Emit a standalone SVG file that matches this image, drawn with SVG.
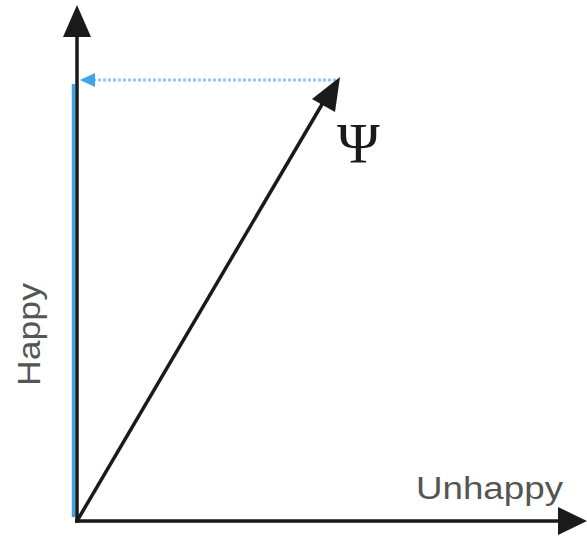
<svg xmlns="http://www.w3.org/2000/svg" width="587" height="539" viewBox="0 0 587 539">
<style>
.ax{stroke:#1a1a1a;stroke-width:3.5;fill:none}
.lbl{font-family:"Liberation Sans",Arial,sans-serif;font-size:31px;fill:#555}
</style>
<rect width="587" height="539" fill="#fff"/>
<g id="connectors">
<line x1="73.5" y1="84" x2="73.5" y2="517" stroke="#3fa3e4" stroke-width="3.5"/>
<line x1="93" y1="80" x2="336" y2="80" stroke="#8ccbf0" stroke-width="3" stroke-dasharray="3,2"/>
<polygon points="80,80 95,73 95,87" fill="#3fa3e4"/>
<line class="ax" x1="77" y1="523" x2="77" y2="35"/>
<polygon points="77,5 63,37 91,37" fill="#1a1a1a"/>
<line class="ax" x1="75" y1="521" x2="560" y2="521"/>
<polygon points="587,521 558,507 558,535" fill="#1a1a1a"/>
<line class="ax" x1="77" y1="521" x2="324" y2="101"/>
<polygon points="340,77 312,99 335,112" fill="#1a1a1a"/>
</g>
<g id="psi"><text x="337" y="163" font-family="Liberation Serif,serif" font-size="58" fill="#1a1a1a">Ψ</text></g>
<g id="happy"><text class="lbl" transform="translate(40,386) rotate(-90)" textLength="103" lengthAdjust="spacingAndGlyphs">Happy</text></g>
<g id="unhappy"><text class="lbl" x="416" y="499" textLength="147" lengthAdjust="spacingAndGlyphs">Unhappy</text></g>
</svg>
